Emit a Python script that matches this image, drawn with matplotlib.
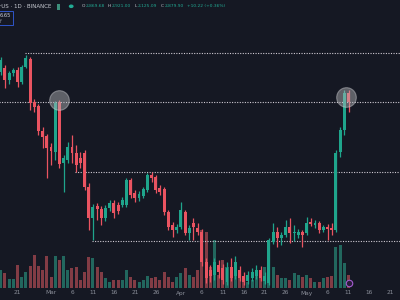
import matplotlib
matplotlib.use("Agg")
import matplotlib.pyplot as plt
import datetime as dt

# ---- data (day offsets from 2021-02-21; prices in chart units) ----
days = list(range(-4, 80))
opens = [228, 232, 220, 227, 230, 218, 233, 241, 198, 194, 169, 164, 153, 148, 198, 137, 140, 153, 147, 142,
         147, 113, 82, 94, 91, 82, 92, 97, 95, 95, 95, 120, 107, 102, 104, 110, 125, 123, 112, 111,
         88, 75, 70, 73, 88, 67, 77, 72, 68, 38, 30, 25, 35, 32, 18, 33, 24, 30, 24, 19,
         22, 24, 30, 19, 17, 58, 68, 62, 65, 73, 67, 65, 68, 67, 78, 75, 77, 70, 73, 72,
         70, 148, 170, 207]
highs = [243, 235, 229, 232, 233, 235, 245, 243, 201, 196, 173, 166, 157, 199, 200, 145, 158, 165, 155, 148,
         150, 117, 96, 97, 94, 95, 100, 100, 98, 103, 122, 122, 110, 109, 113, 127, 128, 125, 115, 113,
         90, 78, 76, 98, 90, 75, 82, 77, 71, 42, 35, 42, 40, 36, 38, 42, 44, 34, 28, 29,
         32, 35, 34, 28, 62, 77, 73, 68, 80, 82, 75, 71, 70, 83, 82, 80, 79, 75, 76, 77,
         150, 173, 210, 210]
lows = [225, 212, 216, 224, 213, 216, 232, 190, 188, 165, 152, 122, 135, 140, 132, 108, 137, 137, 128, 132,
        110, 70, 60, 80, 75, 79, 89, 82, 86, 93, 93, 102, 98, 99, 102, 108, 118, 107, 105, 85,
        70, 63, 67, 71, 65, 60, 60, 65, 34, 17, 18, 20, 22, 16, 15, 19, 21, 19, 15, 16,
        19, 21, 19, 16, 15, 56, 53, 55, 63, 57, 59, 62, 53, 65, 74, 72, 67, 68, 60, 65,
        68, 143, 165, 188]
closes = [240, 220, 227, 230, 218, 233, 242, 197, 193, 169, 163, 152, 149, 197, 136, 142, 153, 147, 135, 137,
          113, 82, 93, 91, 82, 92, 97, 87, 89, 100, 120, 105, 102, 106, 111, 125, 122, 110, 108, 88,
          73, 70, 73, 90, 67, 72, 73, 68, 38, 22, 24, 38, 28, 20, 32, 22, 38, 22, 18, 25,
          28, 30, 22, 24, 60, 68, 62, 65, 73, 67, 68, 68, 65, 77, 76, 77, 70, 73, 71, 70,
          147, 170, 207, 198]
volumes = [18, 15, 9, 9, 23, 11, 16, 22, 33, 22, 18, 32, 11, 32, 28, 32, 18, 20, 21, 8,
           16, 31, 30, 21, 16, 10, 6, 8, 8, 8, 18, 11, 8, 6, 8, 12, 10, 11, 8, 16,
           11, 6, 11, 15, 20, 13, 11, 18, 58, 56, 21, 48, 13, 28, 21, 21, 16, 15, 8, 6,
           8, 13, 18, 21, 48, 21, 13, 10, 10, 8, 15, 13, 11, 13, 10, 6, 6, 10, 11, 12,
           41, 43, 25, 13]

tick_dates = ["2021-02-21", "2021-03-01", "2021-03-06", "2021-03-11", "2021-03-16", "2021-03-21",
              "2021-03-26", "2021-04-01", "2021-04-06", "2021-04-11", "2021-04-16", "2021-04-21",
              "2021-04-26", "2021-05-01", "2021-05-06", "2021-05-11", "2021-05-16", "2021-05-21"]
tick_labels = ["21", "Mar", "6", "11", "16", "21", "26", "Apr", "6", "11", "16", "21", "26",
               "May", "6", "11", "16", "21"]

levels = [247, 198, 128, 59.5]
level_start = [1.8, -10, 13.7, 17.8]
marks_day = [9.8, 78.5]
marks_price = [200, 203]

title = "rUS · 1D · BINANCE"
ohlc_vals = [("O", "2,869.68"), ("H", "2,921.00"), ("L", "2,125.09"), ("C", "2,879.90")]
chg = "+10.22 (+0.36%)"

# ---- style ----
BG = "#151823"
UP = "#1fa58c"
DN = "#ea5461"
VUP = "#22675e"
VDN = "#823c45"

base = dt.date(2021, 2, 21)
def dnum(s):
    return (dt.date.fromisoformat(s) - base).days

fig = plt.figure(figsize=(4, 3), dpi=100, facecolor=BG)
xlim = (-17.5 / 4.19, (400 - 17.5) / 4.19)

axv = fig.add_axes([0, 12 / 300, 1, 1 - 12 / 300])
axv.set_facecolor(BG)
axv.set_xlim(*xlim)
axv.set_ylim(0, 288)
axv.axis("off")
vcols = [VUP if c >= o else VDN for o, c in zip(opens, closes)]
axv.bar(days, volumes, width=0.72, color=vcols, linewidth=0)

ax = fig.add_axes([0, 0, 1, 1])
ax.patch.set_alpha(0)
ax.set_xlim(*xlim)
ax.set_ylim(0, 300)
ax.axis("off")

for lv, st in zip(levels, level_start):
    ax.plot([st, xlim[1] + 1], [lv, lv], color="#cfcad3", lw=0.8,
            linestyle=(0, (1, 1.3)), zorder=2)

for d, o, h, l, c in zip(days, opens, highs, lows, closes):
    col = UP if c >= o else DN
    ax.plot([d, d], [l, h], color=col, lw=0.9, zorder=3, solid_capstyle="butt")
    lo, hi = min(o, c), max(o, c)
    ax.bar(d, max(hi - lo, 0.8), bottom=lo, width=0.7, color=col, linewidth=0, zorder=4)

ax.scatter(marks_day, marks_price, s=200, facecolor="#b8b8bc", edgecolor="#d0d0d4",
           alpha=0.45, linewidths=0.8, zorder=5)

for s, lab in zip(tick_dates, tick_labels):
    ax.text(dnum(s), 7, lab, color="#8a8e99", fontsize=4.2, ha="center", va="center",
            family="DejaVu Sans")

# purple badge near last volume bar
ax.scatter([79], [17], s=22, facecolor="#2a1d3a", edgecolor="#a45bd0", linewidths=0.8, zorder=6)

# header
fig.text(-0.003, 0.979, title, color="#c8cbd3", fontsize=4.0, ha="left", va="center")
fig.patches.append(plt.Rectangle((0.142, 0.968), 0.008, 0.018, transform=fig.transFigure,
                                 facecolor="#3d8f7c", edgecolor="none"))
fig.patches.append(plt.Circle((0.178, 0.979), 0.006, transform=fig.transFigure,
                              facecolor="#22ab94", edgecolor="none"))
x = 0.204
for k, v in ohlc_vals:
    fig.text(x, 0.979, k, color="#c8cbd3", fontsize=3.2, ha="left", va="center")
    x += 0.009
    fig.text(x, 0.979, v, color="#22ab94", fontsize=3.2, ha="left", va="center")
    x += 0.057
fig.text(x, 0.979, chg, color="#22ab94", fontsize=3.2, ha="left", va="center")

# small price box at left
fig.patches.append(plt.Rectangle((-0.01, 0.917), 0.042, 0.045, transform=fig.transFigure,
                                 facecolor=BG, edgecolor="#2f55c9", linewidth=0.7))
fig.text(0.0, 0.948, "6.65", color="#d0d4e0", fontsize=3.6, ha="left", va="center")
fig.text(0.0, 0.928, "f", color="#8a8e99", fontsize=3.6, ha="left", va="center")

fig.savefig("out.png", dpi=100, facecolor=BG)
